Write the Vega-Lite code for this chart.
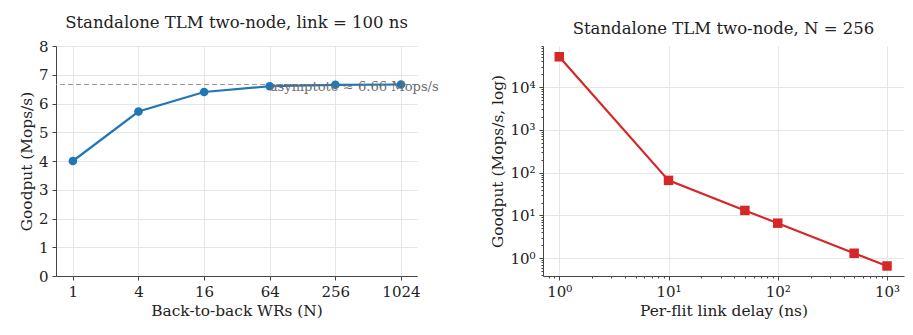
{
  "$schema": "https://vega.github.io/schema/vega-lite/v6.json",
  "background": "white",
  "padding": {"left": 19, "top": 14, "right": 5, "bottom": 5},
  "spacing": 51,
  "config": {
    "font": "DejaVu Serif",
    "view": {"stroke": null},
    "axis": {
      "labelFont": "DejaVu Serif", "titleFont": "DejaVu Serif",
      "labelFontSize": 15, "titleFontSize": 15.4, "titleFontWeight": "normal",
      "labelColor": "#222", "titleColor": "#222",
      "domainColor": "#444", "tickColor": "#444", "tickSize": 4,
      "gridColor": "#e6e6e6", "gridWidth": 1, "labelPadding": 4, "labelOverlap": false
    },
    "title": {"font": "DejaVu Serif", "fontSize": 16.5, "fontWeight": "normal", "color": "#222", "offset": 8}
  },
  "hconcat": [
    {
      "title": "Standalone TLM two-node, link = 100 ns",
      "width": 361, "height": 230,
      "data": {"values": [
        {"n": 1, "g": 4.0}, {"n": 4, "g": 5.72}, {"n": 16, "g": 6.4},
        {"n": 64, "g": 6.6}, {"n": 256, "g": 6.65}, {"n": 1024, "g": 6.66}
      ]},
      "layer": [
        {
          "data": {"values": [{"a": 6.66, "n": 64, "label": "asymptote ≈ 6.66 Mops/s"}]},
          "mark": {"type": "rule", "color": "#999", "strokeDash": [5, 3], "strokeWidth": 1},
          "encoding": {"y": {"field": "a", "type": "quantitative",
            "scale": {"domain": [0, 8], "nice": false},
            "axis": {"values": [0, 1, 2, 3, 4, 5, 6, 7, 8], "tickCount": 9, "title": "Goodput (Mops/s)"}}}
        },
        {
          "mark": {"type": "line", "color": "#1f77b4", "strokeWidth": 2.2, "point": {"filled": true, "size": 75, "color": "#1f77b4", "opacity": 1}},
          "encoding": {
            "x": {"field": "n", "type": "quantitative",
              "scale": {"type": "log", "base": 2, "domain": [0.7, 1437], "nice": false},
              "axis": {"values": [1, 4, 16, 64, 256, 1024], "title": "Back-to-back WRs (N)", "format": "d"}},
            "y": {"field": "g", "type": "quantitative",
              "scale": {"domain": [0, 8], "nice": false},
              "axis": {"values": [0, 1, 2, 3, 4, 5, 6, 7, 8], "tickCount": 9, "title": "Goodput (Mops/s)"}}
          }
        },
        {
          "data": {"values": [{"a": 6.66, "n": 64, "label": "asymptote ≈ 6.66 Mops/s"}]},
          "mark": {"type": "text", "align": "left", "baseline": "top", "color": "#6e6e6e", "fontSize": 13.1, "dy": -4, "font": "DejaVu Serif"},
          "encoding": {
            "x": {"field": "n", "type": "quantitative",
              "axis": {"values": [1, 4, 16, 64, 256, 1024], "title": "Back-to-back WRs (N)", "format": "d"}},
            "y": {"field": "a", "type": "quantitative",
              "axis": {"values": [0, 1, 2, 3, 4, 5, 6, 7, 8], "tickCount": 9, "title": "Goodput (Mops/s)"}},
            "text": {"field": "label"}
          }
        }
      ]
    },
    {
      "title": "Standalone TLM two-node, N = 256",
      "width": 361, "height": 230,
      "data": {"values": [
        {"d": 1, "g": 51000}, {"d": 10, "g": 66}, {"d": 50, "g": 13.1},
        {"d": 100, "g": 6.6}, {"d": 500, "g": 1.31}, {"d": 1000, "g": 0.66}
      ]},
      "layer": [
        {
          "mark": {"type": "line", "color": "#d62728", "strokeWidth": 2.2},
          "encoding": {
            "x": {"field": "d", "type": "quantitative",
              "scale": {"type": "log", "domain": [0.71, 1430], "nice": false},
              "axis": {"values": [1, 10, 100, 1000], "title": "Per-flit link delay (ns)", "orient": "bottom",
                "labelExpr": "'10' + ['⁰','¹','²','³','⁴'][round(log(datum.value)/LN10)]"}},
            "y": {"field": "g", "type": "quantitative",
              "scale": {"type": "log", "domain": [0.385, 91000], "nice": false},
              "axis": {"values": [1, 10, 100, 1000, 10000], "title": "Goodput (Mops/s, log)", "orient": "left",
                "labelExpr": "'10' + ['⁰','¹','²','³','⁴'][round(log(datum.value)/LN10)]"}}
          }
        },
        {
          "mark": {"type": "point", "shape": "square", "filled": true, "size": 90, "color": "#d62728", "opacity": 1},
          "encoding": {
            "x": {"field": "d", "type": "quantitative",
              "axis": {"orient": "bottom", "title": null, "labels": false, "grid": false, "domain": false, "tickSize": 2,
                "values": [0.8, 0.9, 2, 3, 4, 5, 6, 7, 8, 9, 20, 30, 40, 50, 60, 70, 80, 90, 200, 300, 400, 500, 600, 700, 800, 900]}},
            "y": {"field": "g", "type": "quantitative",
              "axis": {"orient": "left", "title": null, "labels": false, "grid": false, "domain": false, "tickSize": 2,
                "values": [0.4, 0.5, 0.6, 0.7, 0.8, 0.9, 2, 3, 4, 5, 6, 7, 8, 9, 20, 30, 40, 50, 60, 70, 80, 90, 200, 300, 400, 500, 600, 700, 800, 900, 2000, 3000, 4000, 5000, 6000, 7000, 8000, 9000, 20000, 30000, 40000, 50000, 60000, 70000, 80000, 90000]}}
          }
        }
      ],
      "resolve": {"axis": {"x": "independent", "y": "independent"}}
    }
  ]
}
